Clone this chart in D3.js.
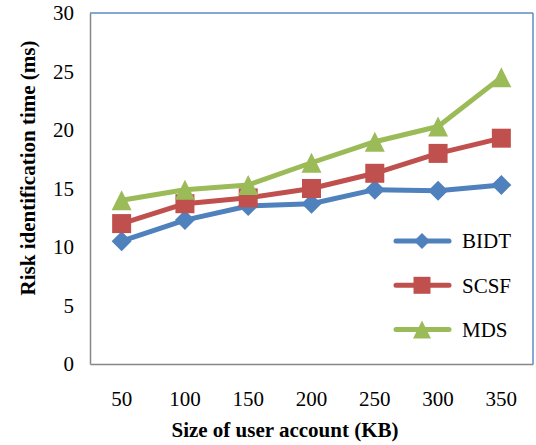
<!DOCTYPE html>
<html>
<head>
<meta charset="utf-8">
<script src="https://cdn.jsdelivr.net/npm/d3@7"></script>
<style>
  body { margin: 0; background: #fff; }
</style>
</head>
<body>
<script>
const sizes = ["50", "100", "150", "200", "250", "300", "350"];
const bidt = [10.5, 12.3, 13.5, 13.7, 14.9, 14.8, 15.3];
const scsf = [12.0, 13.7, 14.2, 15.0, 16.3, 18.0, 19.3];
const mds = [14.0, 14.9, 15.3, 17.2, 19.0, 20.3, 24.5];
const yTicks = [0, 5, 10, 15, 20, 25, 30];

const WIDTH = 536;
const HEIGHT = 445;
const LEFT = 90, RIGHT = 533, TOP = 13, BOTTOM = 364;
const FONT = "Liberation Serif";

// excel-like marker shapes, size = half width
const diamond = {
  draw(ctx, r) {
    ctx.moveTo(0, -r); ctx.lineTo(r, 0); ctx.lineTo(0, r); ctx.lineTo(-r, 0); ctx.closePath();
  }
};
const square = {
  draw(ctx, r) { ctx.rect(-r, -r, 2 * r, 2 * r); }
};
const triangle = {
  draw(ctx, r) {
    ctx.moveTo(0, -r); ctx.lineTo(r, r); ctx.lineTo(-r, r); ctx.closePath();
  }
};

const series = [
  { name: "BIDT", values: bidt, color: "#4F81BD", shape: diamond, size: 10, legendSize: 8 },
  { name: "SCSF", values: scsf, color: "#C0504D", shape: square, size: 9.5, legendSize: 8.5 },
  { name: "MDS", values: mds, color: "#9BBB59", shape: triangle, size: 10, legendSize: 9 }
];

const svg = d3.select("body")
  .append("svg")
  .attr("width", WIDTH)
  .attr("height", HEIGHT)
  .attr("font-family", FONT);

const xScale = d3.scaleBand()
  .domain(sizes)
  .range([LEFT, RIGHT]);

const yScale = d3.scaleLinear()
  .domain([0, 30])
  .range([BOTTOM, TOP]);

// plot frame: gray left/bottom, blue top/right
svg.append("line").attr("x1", LEFT).attr("x2", RIGHT).attr("y1", TOP).attr("y2", TOP)
  .attr("stroke", "#5B8AC6").attr("stroke-width", 1.5);
svg.append("line").attr("x1", RIGHT).attr("x2", RIGHT).attr("y1", TOP).attr("y2", BOTTOM)
  .attr("stroke", "#5B8AC6").attr("stroke-width", 1.5);

const yAxis = d3.axisLeft(yScale).tickValues(yTicks).tickSize(0).tickPadding(16);
svg.append("g")
  .attr("transform", "translate(" + LEFT + ",0)")
  .call(yAxis)
  .attr("font-family", FONT)
  .call(g => g.select(".domain").attr("stroke", "#868686").attr("stroke-width", 1.5))
  .call(g => g.selectAll("text").attr("font-size", 21).attr("fill", "#000"));

const xAxis = d3.axisBottom(xScale).tickSize(0).tickPadding(27);
svg.append("g")
  .attr("transform", "translate(0," + BOTTOM + ")")
  .call(xAxis)
  .attr("font-family", FONT)
  .call(g => g.select(".domain").attr("stroke", "#868686").attr("stroke-width", 1.5))
  .call(g => g.selectAll("text").attr("font-size", 21).attr("fill", "#000"));

const cx = d => xScale(d) + xScale.bandwidth() / 2;

const line = d3.line()
  .x((d, i) => cx(sizes[i]))
  .y(d => yScale(d));

series.forEach(s => {
  svg.append("path")
    .datum(s.values)
    .attr("fill", "none")
    .attr("stroke", s.color)
    .attr("stroke-width", 5)
    .attr("stroke-linejoin", "round")
    .attr("d", line);
  svg.selectAll(null)
    .data(s.values)
    .enter()
    .append("path")
    .attr("transform", (d, i) => "translate(" + cx(sizes[i]) + "," + yScale(d) + ")")
    .attr("d", d3.symbol().type(s.shape).size(s.size))
    .attr("fill", s.color);
});

// legend
const legend = svg.append("g");
series.forEach((s, i) => {
  const y = 241 + i * 44.3;
  legend.append("line")
    .attr("x1", 396).attr("x2", 449).attr("y1", y).attr("y2", y)
    .attr("stroke", s.color).attr("stroke-width", 5).attr("stroke-linecap", "round");
  legend.append("path")
    .attr("transform", "translate(422," + y + ")")
    .attr("d", d3.symbol().type(s.shape).size(s.legendSize))
    .attr("fill", s.color);
  legend.append("text")
    .attr("x", 462).attr("y", y).attr("dy", "0.35em")
    .attr("font-size", 21).text(s.name);
});

svg.append("text")
  .attr("x", 285).attr("y", 437)
  .attr("text-anchor", "middle")
  .attr("font-weight", "bold")
  .attr("font-size", 21)
  .text("Size of user account (KB)");

svg.append("text")
  .attr("transform", "translate(35,168) rotate(-90)")
  .attr("text-anchor", "middle")
  .attr("font-weight", "bold")
  .attr("font-size", 21)
  .text("Risk identification time (ms)");
</script>
</body>
</html>
